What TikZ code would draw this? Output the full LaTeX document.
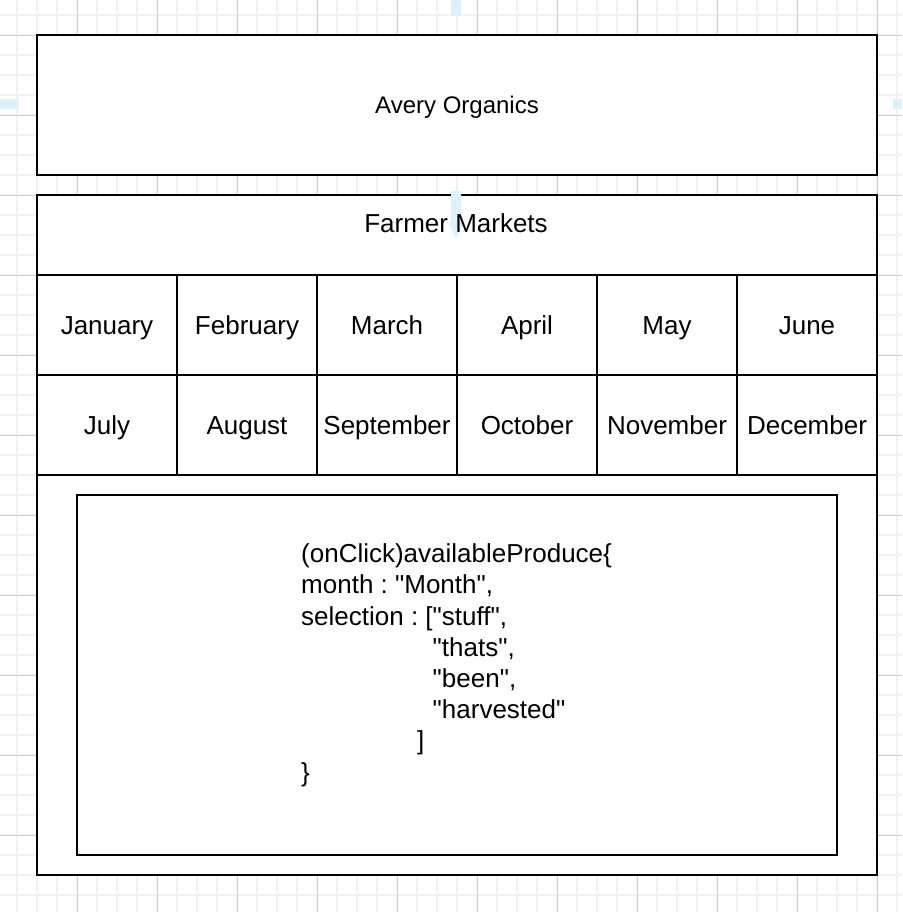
\documentclass[tikz,border=0pt]{standalone}
\usepackage{fontspec}
\setmainfont{Liberation Sans}
\usetikzlibrary{positioning}
\frenchspacing

\definecolor{gridminor}{HTML}{F2F2F2}
\definecolor{gridmajor}{HTML}{D0D0D0}
\definecolor{guideblue}{HTML}{DDF1FC}

\tikzset{
  box/.style={rectangle,draw,fill=white,line width=2pt,inner sep=0pt,outer sep=0pt,
    font=\fontsize{26}{31.2}\selectfont,text height=18.6pt,text depth=0pt},
  monthcell/.style={box,minimum width=140pt,minimum height=100pt},
  minorline/.style={gridminor,line width=1.5pt},
  majorline/.style={gridmajor,line width=0.8pt},
  guide/.style={fill=guideblue,draw=none}
}

\begin{document}
\begin{tikzpicture}[x=1pt,y=-1pt]
\useasboundingbox (0,0) rectangle (902,912);
\fill[white] (0,0) rectangle (902,912);

% background grid
\foreach \x in {17,37,...,897}
  \draw[minorline] (\x,0) -- (\x,912);
\foreach \y in {15,35,...,912}
  \draw[minorline] (0,\y) -- (902,\y);
\foreach \x in {77,157,...,897}
  \draw[majorline] (\x,0) -- (\x,912);
\foreach \y in {35,115,...,912}
  \draw[majorline] (0,\y) -- (902,\y);

% guide marks
\fill[guide] (451,0) rectangle (461,16);
\fill[guide] (0,99) rectangle (19,109);
\fill[guide] (893,99) rectangle (902,109);

% title
\node[box,minimum width=840pt,minimum height=140pt,
  font=\fontsize{24}{30}\selectfont,text height=17.2pt] (title) at (457,105) {Avery Organics};

% market panel
\node[box,minimum width=840pt,minimum height=680pt] (panel) at (457,535) {};
\node[box,minimum width=840pt,minimum height=80pt] (markets) at (457,235) {};
\fill[guide] (451,191) -- (461,191) -- (461,222) -- (464,222) -- (456,238)
  -- (448,222) -- (451,222) -- cycle;
\node[font=\fontsize{26}{31.2}\selectfont,text height=18.6pt,text depth=0pt,inner sep=0pt]
  (marketstext) at (456,223) {Farmer Markets};

% months
\node[monthcell] (jan) at (107,325) {January};
\node[monthcell,right=0pt of jan] (feb) {February};
\node[monthcell,right=0pt of feb] (mar) {March};
\node[monthcell,right=0pt of mar] (apr) {April};
\node[monthcell,right=0pt of apr] (may) {May};
\node[monthcell,right=0pt of may] (jun) {June};
\node[monthcell,below=0pt of jan] (jul) {July};
\node[monthcell,right=0pt of jul] (aug) {August};
\node[monthcell,right=0pt of aug] (sep) {September};
\node[monthcell,right=0pt of sep] (oct) {October};
\node[monthcell,right=0pt of oct] (nov) {November};
\node[monthcell,right=0pt of nov] (dec) {December};

% produce panel
\node[box,minimum width=760pt,minimum height=360pt] (produce) at (457,675) {};
\node[font=\fontsize{26}{31.2}\selectfont,align=left,anchor=base west,inner sep=0pt]
  (code) at (301,781) {(onClick)availableProduce\{\\
month : \textquotedbl Month\textquotedbl,\\
selection : [\textquotedbl stuff\textquotedbl,\\
\hphantom{selection : [}\textquotedbl thats\textquotedbl,\\
\hphantom{selection : [}\textquotedbl been\textquotedbl,\\
\hphantom{selection : [}\textquotedbl harvested\textquotedbl\\
\hspace*{116pt}]\\
\}};
\end{tikzpicture}
\end{document}
